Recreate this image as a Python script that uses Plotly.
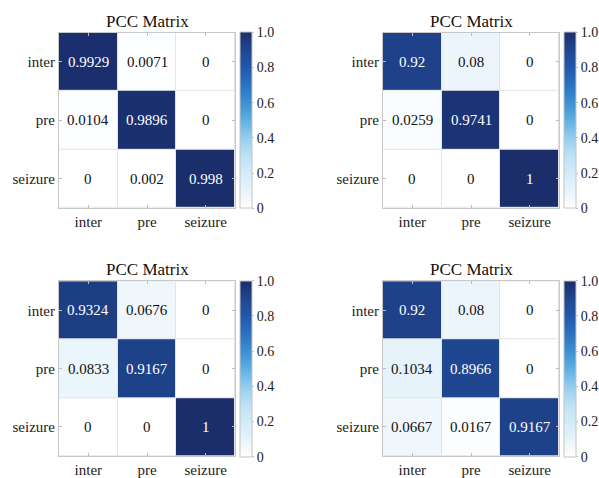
import plotly.graph_objects as go

# Class labels shared by all four confusion matrices
classes = ["inter", "pre", "seizure"]

# Row-normalised matrices (rows: true class, columns: predicted class)
matrix_a = [[0.9929, 0.0071, 0.0],
            [0.0104, 0.9896, 0.0],
            [0.0, 0.002, 0.998]]
matrix_b = [[0.92, 0.08, 0.0],
            [0.0259, 0.9741, 0.0],
            [0.0, 0.0, 1.0]]
matrix_c = [[0.9324, 0.0676, 0.0],
            [0.0833, 0.9167, 0.0],
            [0.0, 0.0, 1.0]]
matrix_d = [[0.92, 0.08, 0.0],
            [0.1034, 0.8966, 0.0],
            [0.0667, 0.0167, 0.9167]]

panel_title = "PCC Matrix"
cbar_tickvals = [0, 0.2, 0.4, 0.6, 0.8, 1.0]
cbar_ticktext = ["0", "0.2", "0.4", "0.6", "0.8", "1.0"]

W, H = 599, 478
SERIF = "Liberation Serif"

blues = [
    [0.0, "#ffffff"], [0.1, "#e7f3fb"], [0.2, "#d3ebf8"], [0.3, "#bde2f5"],
    [0.4, "#93cdee"], [0.5, "#5eb0e3"], [0.6, "#3c8fd2"], [0.7, "#2c72bf"],
    [0.8, "#2158a9"], [0.9, "#1f4690"], [1.0, "#1b2d6b"],
]

# pixel boxes (left, top) of each heatmap; each is 176 px square
boxes = [(59, 33), (383, 33), (59, 283), (383, 283)]
SIZE = 176
matrices = [matrix_a, matrix_b, matrix_c, matrix_d]

fig = go.Figure()
annotations = []
layout_axes = {}

for i, (mat, (left, top)) in enumerate(zip(matrices, boxes)):
    n = i + 1
    xa = "x" if n == 1 else f"x{n}"
    ya = "y" if n == 1 else f"y{n}"
    x0, x1 = left / W, (left + SIZE) / W
    y1, y0 = 1 - top / H, 1 - (top + SIZE) / H

    fig.add_trace(go.Heatmap(
        z=mat, x=classes, y=classes,
        xaxis=xa, yaxis=ya,
        colorscale=blues, zmin=0, zmax=1,
        xgap=1, ygap=1,
        colorbar=dict(
            x=(left + SIZE + 5) / W, xanchor="left", xpad=0,
            y=(y0 + y1) / 2, yanchor="middle", ypad=0,
            len=SIZE, lenmode="pixels",
            thickness=12, thicknessmode="pixels",
            outlinecolor="#c4c4c4", outlinewidth=1,
            tickvals=cbar_tickvals, ticktext=cbar_ticktext,
            ticks="outside", ticklen=2, tickcolor="#c4c4c4",
            tickfont=dict(family=SERIF, size=14, color="#222222"),
        ),
        hoverinfo="skip",
    ))

    axis_common = dict(
        showline=True, linecolor="#c8c8c8", linewidth=1, mirror="allticks",
        ticks="inside", ticklen=3, tickcolor="#bbbbbb",
        showgrid=False, zeroline=False, fixedrange=True,
        tickfont=dict(family=SERIF, size=15, color="#222222"),
    )
    layout_axes["xaxis" if n == 1 else f"xaxis{n}"] = dict(
        domain=[x0, x1], anchor=ya, categoryorder="array",
        categoryarray=classes, **axis_common)
    layout_axes["yaxis" if n == 1 else f"yaxis{n}"] = dict(
        domain=[y0, y1], anchor=xa, autorange="reversed",
        categoryorder="array", categoryarray=classes, **axis_common)

    # cell value labels
    for r, row_label in enumerate(classes):
        for c, col_label in enumerate(classes):
            v = mat[r][c]
            annotations.append(dict(
                x=col_label, y=row_label, xref=xa, yref=ya,
                text=f"{v:.4g}", showarrow=False,
                font=dict(family=SERIF, size=15,
                          color="#ffffff" if v > 0.5 else "#111111"),
            ))

    # panel title
    annotations.append(dict(
        x=(x0 + x1) / 2, y=y1, xref="paper", yref="paper",
        xanchor="center", yanchor="bottom", yshift=0,
        text=panel_title, showarrow=False,
        font=dict(family=SERIF, size=17, color="#111111"),
    ))

fig.update_layout(
    width=W, height=H,
    margin=dict(l=0, r=0, t=0, b=0),
    paper_bgcolor="#ffffff", plot_bgcolor="#e4e4e4",
    annotations=annotations,
    **layout_axes,
)

fig.write_html("out.html")
